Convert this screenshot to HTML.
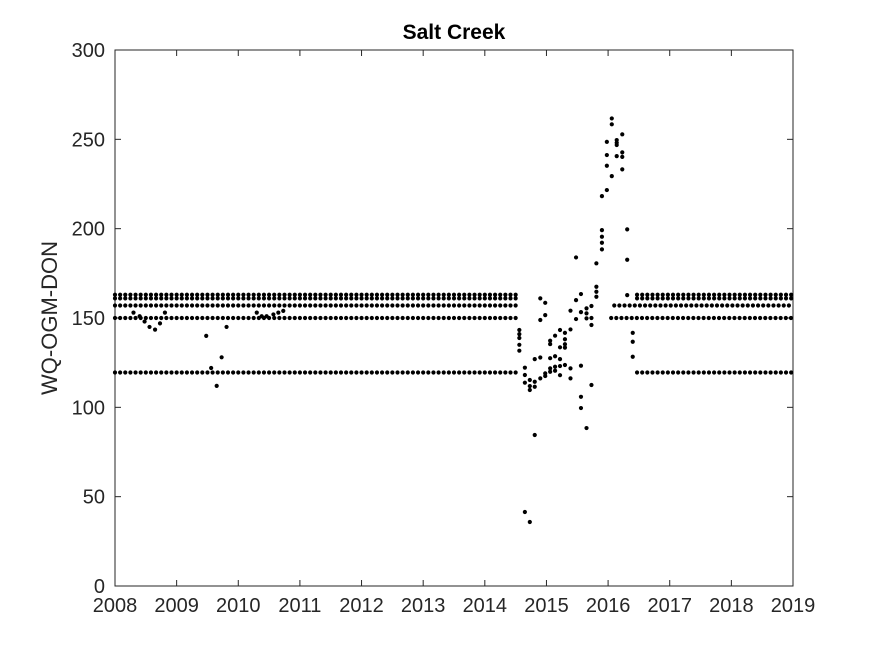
<!DOCTYPE html>
<html><head><meta charset="utf-8"><style>
body{margin:0;background:#fff;}
svg text{font-family:"Liberation Sans",Arial,sans-serif;fill:#262626;}
</style></head><body>
<svg id="chart" width="875" height="656" xmlns="http://www.w3.org/2000/svg">
<rect width="875" height="656" fill="#fff"/>
<text x="454" y="39" text-anchor="middle" font-size="21" font-weight="bold" style="fill:#000">Salt Creek</text>
<text transform="translate(57,318) rotate(-90)" text-anchor="middle" font-size="22">WQ-OGM-DON</text>
<g id="grid"></g><g id="marks"></g>
</svg>
<script>
const xTicks=[2008,2009,2010,2011,2012,2013,2014,2015,2016,2017,2018,2019];
const yTicks=[0,50,100,150,200,250,300];
// baseline rows: constant value sampled monthly between start/end years
const rowValues=[163,161,157,150,119.5,163,161,157,150,119.5];
const rowStarts=[2008,2008,2008,2008,2008,2016.47,2016.47,2016.1,2016.05,2016.47];
const rowEnds=[2014.58,2014.58,2014.58,2014.58,2014.58,2018.97,2018.97,2018.97,2018.97,2018.97];
// scattered samples
const ptYears=[2014.56,2014.56,2014.56,2014.56,2014.56,2014.65,2014.65,2014.65,2014.65,2014.73,2014.73,2014.73,2014.73,2014.81,2014.81,2014.81,2014.81,2014.9,2014.9,2014.9,2014.9,2014.98,2014.98,2014.98,2014.98,2015.06,2015.06,2015.06,2015.06,2015.06,2015.14,2015.14,2015.14,2015.14,2015.22,2015.22,2015.22,2015.22,2015.22,2015.3,2015.3,2015.3,2015.3,2015.3,2015.39,2015.39,2015.39,2015.39,2015.48,2015.48,2015.48,2015.56,2015.56,2015.56,2015.56,2015.56,2015.65,2015.65,2015.65,2015.65,2015.73,2015.73,2015.73,2015.73,2015.81,2015.81,2015.81,2015.81,2015.9,2015.9,2015.9,2015.9,2015.9,2015.98,2015.98,2015.98,2015.98,2016.06,2016.06,2016.06,2016.14,2016.14,2016.14,2016.14,2016.23,2016.23,2016.23,2016.23,2016.31,2016.31,2016.31,2016.4,2016.4,2016.4,
2009.48,2009.81,2009.73,2009.56,2009.65,2008.3,2008.4,2008.48,2008.56,2008.65,2008.73,2008.81,2010.3,2010.38,2010.46,2010.57,2010.65,2010.73];
const ptValues=[143.3,141,138.8,131.7,135,122.2,118.1,113.8,41.4,115.3,111.9,109.7,35.8,111.5,114.3,127,84.5,161,148.9,116.2,127.9,158.5,151.6,119,117.5,127.5,121.8,119.9,135.4,137.3,120.5,122.7,140.1,128.6,127,123.1,133.6,143.3,118,141.7,138.1,135.3,133.4,123.7,154.1,143.6,121.8,116.2,149.4,160,183.9,163.4,153.3,123.3,105.9,99.6,155.4,152.6,149.8,88.4,156.7,146.1,112.5,150,180.6,167.5,164.7,161.9,218.2,199.2,195.5,192.1,188.4,221.6,235.2,241.2,248.6,261.7,258.4,229.4,249.6,246.8,240.6,248.1,252.8,240.2,233.2,242.7,199.6,182.6,162.8,136.7,128.3,141.7,
140,145,128,122,112,153,151,148,145,143.5,147,153,153,151,151,152,153,154];
const X0=115,X1=793,Y0=586,Y1=50;
const sx=v=>X0+(v-2008)/(2019-2008)*(X1-X0);
const sy=v=>Y0-(v-0)/(300-0)*(Y0-Y1);
const NS="http://www.w3.org/2000/svg";
const grid=document.getElementById('grid'),marks=document.getElementById('marks');
function mk(tag,attrs,parent){const e=document.createElementNS(NS,tag);for(const k in attrs)e.setAttribute(k,attrs[k]);parent.appendChild(e);return e;}
const box=mk('rect',{x:X0,y:Y1,width:X1-X0,height:Y0-Y1,fill:'none',stroke:'#262626','stroke-width':1},grid);


xTicks.forEach(t=>{const x=sx(t);
 mk('line',{x1:x,x2:x,y1:Y0,y2:Y0-6,stroke:'#262626'},grid);
 mk('line',{x1:x,x2:x,y1:Y1,y2:Y1+6,stroke:'#262626'},grid);
 const tx=mk('text',{x:x,y:Y0+26,'text-anchor':'middle','font-size':20},grid);tx.textContent=t;
 
 });
yTicks.forEach(t=>{const y=sy(t);
 mk('line',{x1:X0,x2:X0+6,y1:y,y2:y,stroke:'#262626'},grid);
 mk('line',{x1:X1,x2:X1-6,y1:y,y2:y,stroke:'#262626'},grid);
 const tx=mk('text',{x:X0-10,y:y+7,'text-anchor':'end','font-size':20},grid);tx.textContent=t;
 
 });
function dot(yr,v){const c=mk('circle',{cx:sx(yr),cy:sy(v),r:2.1,fill:'#000'},marks);
 
 }
rowValues.forEach((v,i)=>{for(let yr=rowStarts[i];yr<=rowEnds[i]+1e-6;yr+=1/12)dot(yr,v);});
ptYears.forEach((yr,i)=>dot(yr,ptValues[i]));
</script>
</body></html>
